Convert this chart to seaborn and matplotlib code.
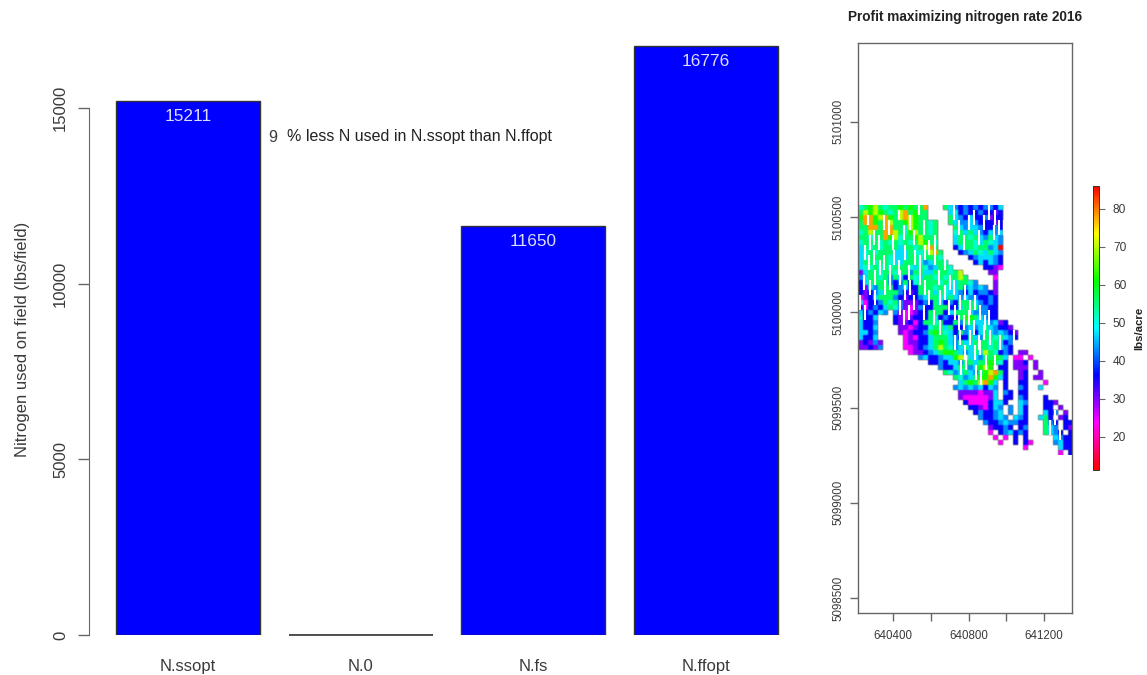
import matplotlib
matplotlib.use('Agg')
import matplotlib.pyplot as plt
from matplotlib.colors import LinearSegmentedColormap
import numpy as np
import seaborn as sns

# bar chart values
categories = ['N.ssopt', 'N.0', 'N.fs', 'N.ffopt']
n_used = [15211, 0, 11650, 16776]
bar_yticks = [0, 5000, 10000, 15000]

# colour classes used in the map rows
code_values = {'m': 24, 'p': 30, 'b': 36, 'a': 43, 'c': 47, 't': 51,
               'g': 56, 'l': 62, 'y': 70, 'o': 78, 'r': 86}

# profit maximizing rate, one string per row, '.' = no data
map_rows = [
    "tglygtgglglggo...gcabababaabc",
    "gylylgtgyoglgg....ctbabbabbpb",
    "loolyolgyoylgg....gcabcbbapbb",
    "goolgoygglylggtg..gcaacabbbpb",
    "ggoogooggtylggtg...gcaccabbab",
    "tgyggooygtlyggtg...tgcgcabcac",
    "ggtggolytgglyggg...cggtgcagca",
    "tgggtgtgtgtgylgt...cgggtcgtca",
    "cgtgtgggcggtgyog...bcggtggacr",
    "ctgtgggcccgttgyog...bacgtcgca",
    "ctggggtcccggtgggt.....bacccab",
    "cggtggtccgggtacggt.....bcbcab",
    "cttgtgtgggtcgtacggt......bbpm",
    "pcggtggtggaggccgggtgy.....pp",
    "acggtgagcbgtcggtgtggyg.....m",
    "bcggggabagbtggggtgtcggta...p",
    "bpcagggbacbbgggtgtccgacaca.p",
    "bpbacgggabpbgggcgtccabcbaabp",
    "mpbcgggabpbbacggtcgcacaabbab",
    "cmbbagtgapppbabgcbabgggcabab",
    "bmbabcgtapmpabbgggbbcgggaabb",
    "cbabca.apmmpbbgggbcgggcaaabb",
    "tbbc...bpmpbbbgtbabbgllgcabb",
    "cbba...bppbmbggtgbbgaggcccacpb",
    "cbbc....ppmpbbtggcgbbacacgcabbp",
    "ccba....pmpbbaglgtcbgacbcgcacabp",
    "cbbc.....mpmbbcgggcabbgcaggtgcab",
    "pbpap....mppbbcglgcagccgggtgcba",
    "ppbpa....mmpbacgygtacgcgggtgcab",
    "..........mppbacgllgcacgcygtbab.pp",
    "............acbbacclyyccagglgc.mm.m",
    "..............bbabccaggcgglgtb.ppb.p",
    "................abbcggaclyl.bb.ppp.p",
    ".................gtacgcaglyogb..pb..p",
    "...................gtacgllolcb..pb.pp",
    "....................cglgyolc.b..bb...m",
    "...................acacacbca.b..ab..c",
    "....................ppppmppc.ab.bb",
    "....................pmmmmmpc.bb.ab...b",
    ".....................bmmmmbccb..ca...bbp",
    "......................bbpmbca.a.cb...bb.p",
    ".......................babbac.a.cb...cba.p",
    "........................abbaca.cab..cgb.pb",
    ".........................abbacaabb...gab.bb",
    "..........................pbbab.ba...gca.bp",
    "..........................m.bacbab...gcab.b",
    "...........................m.m.b.b.....cabb",
    "............................m..b.bm....acbb",
    ".................................m......cbb",
    "........................................m.b",
]

# white gaps between passes: column, first row, last row
gap_col = [2, 2.4, 1.3, 3.1, 4.1, 5.1, 6.2, 6.9, 8.1, 9.1, 10.3, 11.2, 12.2, 13.1,
           2.1, 3.2, 4.3, 5.2, 6.3, 7.2, 8.2, 9.3, 10.2, 11.3, 12.4, 13.3, 14.2, 15.3,
           1.2, 2.3, 3.3, 5.3, 6.4, 8.4, 9.4, 10.4, 12.3, 13.4, 15.4, 16.2, 17.3, 18.3, 19.2,
           0.4, 1.4, 3.4, 4.4, 11.1, 14.1, 16.3, 17.4, 19.3, 20.3, 21.3, 22.3, 23.3, 24.3,
           8.3, 9.2, 10.1, 13.2, 15.2, 16.4, 18.2, 20.2, 21.2, 22.2, 23.2, 25.3, 26.2,
           19.4, 20.4, 22.4, 24.2, 25.2, 26.3, 21.4, 23.4, 24.4,
           19.1, 20.1, 21.1, 22.1, 23.1, 24.1, 25.1, 26.1, 27.2, 27.3, 28.2, 29.2,
           20.5, 21.5, 23.5, 24.5, 25.5, 27.4, 28.3, 31.1, 38.3, 39.3, 40.3]
gap_row0 = [2, 6, 8, 5, 6, 2, 3, 6, 1, 4, 2, 5, 0, 3,
            10, 9, 11, 10, 12, 9, 11, 8, 12, 9, 10, 8, 7, 6,
            14, 15, 13, 15, 14, 13, 16, 15, 13, 15, 9, 13, 10, 14, 15,
            18, 20, 17, 22, 18, 17, 17, 16, 20, 18, 16, 19, 18, 20,
            19, 21, 20, 20, 21, 23, 19, 22, 22, 21, 23, 22, 21,
            26, 25, 25, 26, 24, 25, 28, 28, 27,
            0, 3, 6, 2, 1, 5, 2, 0, 4, 1, 3, 3,
            31, 30, 32, 33, 30, 30, 26, 25, 43, 41, 44]
gap_row1 = [4, 9, 11, 8, 9, 5, 6, 9, 3, 7, 5, 8, 2, 6,
            13, 12, 14, 13, 15, 12, 14, 11, 15, 12, 13, 11, 10, 9,
            17, 18, 16, 18, 17, 16, 19, 18, 16, 18, 12, 16, 13, 17, 18,
            21, 23, 20, 25, 21, 20, 20, 19, 23, 21, 19, 22, 21, 23,
            22, 24, 23, 23, 24, 26, 22, 25, 25, 24, 26, 25, 24,
            29, 28, 28, 29, 27, 28, 31, 31, 30,
            3, 6, 9, 5, 4, 8, 5, 3, 7, 4, 6, 6,
            34, 33, 35, 36, 33, 33, 29, 28, 46, 44, 47]

map_xticks = [640400, 640600, 640800, 641000, 641200]
map_xlabels = ['640400', '', '640800', '', '641200']
map_yticks = [5098500, 5099000, 5099500, 5100000, 5100500, 5101000]
cbar_ticks = [20, 30, 40, 50, 60, 70, 80]

W, H = 1147, 675


def px_axes(left, top, right, bottom):
    return fig.add_axes([left / W, 1 - bottom / H, (right - left) / W, (bottom - top) / H])


sns.set_style('white')
plt.rcParams['font.family'] = ['Liberation Sans', 'DejaVu Sans']
text_col = '#3a3a3a'
line_col = '#666666'

fig = plt.figure(figsize=(W / 100, H / 100), dpi=100)

# left panel, bars
ax = px_axes(89, 20, 800, 635)
sns.barplot(x=categories, y=n_used, color='#0000ff', saturation=1, width=0.834,
            edgecolor='#333333', linewidth=1, ax=ax)
ax.set_xlim(-0.573, 3.544)
ax.set_ylim(0, 615 / 0.03513)
for i, v in enumerate(n_used):
    if v > 0:
        ax.annotate(str(v), (i, v), xytext=(0, -11.5), textcoords='offset points',
                    ha='center', va='center', color='#dcdcff', fontsize=12.4)
# the N.0 bar has no height, only its outline
ax.hlines(0, 1 - 0.417, 1 + 0.417, color='#333333', lw=1.2, clip_on=False)
sns.despine(ax=ax, bottom=True)
ax.spines['left'].set_bounds(0, 15000)
ax.spines['left'].set_color(line_col)
ax.set_yticks(bar_yticks)
ax.tick_params(axis='y', length=8, width=1, color=line_col, labelcolor=text_col, labelsize=12, pad=7, left=True)
ax.tick_params(axis='x', length=0, labelcolor=text_col, labelsize=12, pad=17.5)
for t in ax.get_yticklabels():
    t.set_rotation(90)
    t.set_va('center')
ax.set_ylabel('Nitrogen used on field (lbs/field)', fontsize=12, color=text_col)
ax.yaxis.set_label_coords(-0.083, 0.48)
fig.text(273 / W, 1 - 138 / H, '9', fontsize=11.6, color=text_col, ha='center', va='center')
fig.text(287 / W, 1 - 136 / H, '% less N used in N.ssopt than N.ffopt', fontsize=11.5,
         color='#222222', ha='left', va='center')

# right panel, map
x0, dx = 640216, 26.45
y0, dy = 5100563, 26.25
n_cols = 43
grid = np.full((len(map_rows), n_cols), np.nan)
for r, row in enumerate(map_rows):
    for c, ch in enumerate(row[:n_cols]):
        if ch != '.':
            grid[r, c] = code_values[ch]
# repeat cells so the smoothing only softens their edges
fine_grid = np.repeat(np.repeat(grid, 2, axis=0), 2, axis=1)

rainbow_r = LinearSegmentedColormap.from_list(
    'rev_rainbow', ['#ff0000', '#ff00ff', '#0000ff', '#00ffff', '#00ff00', '#ffff00', '#ff0000'])

ax_map = px_axes(858, 43, 1072, 613)
mesh = ax_map.imshow(np.ma.masked_invalid(fine_grid), cmap=rainbow_r, vmin=11.3, vmax=86, aspect='auto',
                     interpolation='hanning', interpolation_stage='rgba',
                     extent=[x0, x0 + dx * n_cols, y0 - dy * len(map_rows), y0])
ax_map.vlines(x0 + dx * np.array(gap_col), y0 - dy * np.array(gap_row0), y0 - dy * np.array(gap_row1),
              color='white', lw=1.5)
ax_map.set_xlim(640216, 641347)
ax_map.set_ylim(5098421, 5101414)
ax_map.set_xticks(map_xticks)
ax_map.set_xticklabels(map_xlabels)
ax_map.set_yticks(map_yticks)
ax_map.set_yticklabels([str(v) for v in map_yticks], rotation=90, va='center')
ax_map.tick_params(axis='both', length=5.5, width=1, color=line_col, labelcolor=text_col, labelsize=8.3,
                   bottom=True, left=True)
ax_map.tick_params(axis='x', pad=7)
ax_map.tick_params(axis='y', pad=4.5)
for s in ax_map.spines.values():
    s.set_color(line_col)
    s.set_linewidth(1)
fig.text(965 / W, 1 - 17 / H, 'Profit maximizing nitrogen rate 2016', fontsize=9.8, fontweight='bold',
         color='#222222', ha='center', va='center')

# colour key
cax = px_axes(1093, 186, 1099, 470)
cb = fig.colorbar(mesh, cax=cax)
cb.set_ticks(cbar_ticks)
cb.ax.tick_params(length=4.5, width=0.8, color=line_col, labelcolor=text_col, labelsize=8.6, pad=5.5, right=True)
cb.outline.set_edgecolor('#333333')
cb.outline.set_linewidth(0.7)
fig.text(1139 / W, 1 - 328 / H, 'lbs/acre', fontsize=8.2, fontweight='bold', rotation=90,
         color='#222222', ha='center', va='center')

fig.savefig('out.png', dpi=100)
